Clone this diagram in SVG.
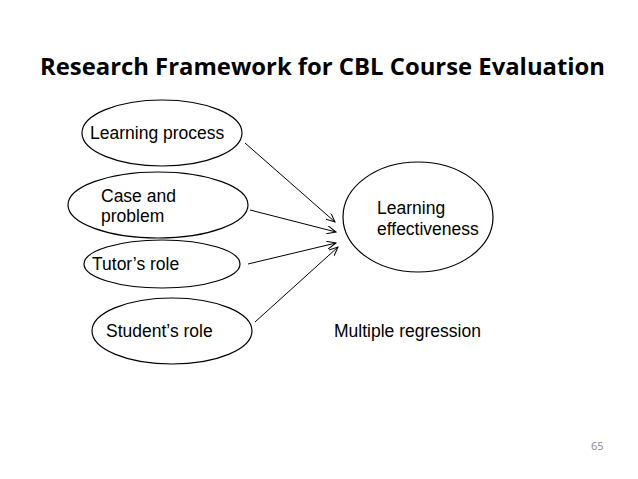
<svg xmlns="http://www.w3.org/2000/svg" width="638" height="479" viewBox="0 0 638 479">
<style>
.n{fill:#fff;stroke:#000;stroke-width:1.2}
.t{font-family:"Liberation Sans",Arial,sans-serif;font-size:17.5px;fill:#000}
.c{stroke:#000;stroke-width:1;fill:none;marker-end:url(#a)}
</style>
<defs><marker id="a" markerWidth="10" markerHeight="8" refX="9" refY="4" orient="auto" markerUnits="userSpaceOnUse"><path d="M0,0L9,4L0,8" fill="none" stroke="#000"/></marker></defs>
<rect width="638" height="479" fill="#fff"/>
<text x="40" y="75" font-family="'Open Sans','DejaVu Sans',sans-serif" font-weight="bold" font-size="24" textLength="565" lengthAdjust="spacingAndGlyphs" fill="#000">Research Framework for CBL Course Evaluation</text>
<g id="lp"><ellipse class="n" cx="162" cy="133" rx="80" ry="33"/><text class="t" x="90" y="139">Learning process</text></g>
<g id="cp"><ellipse class="n" cx="158" cy="205" rx="90" ry="33"/><text class="t" x="101" y="202">Case and</text><text class="t" x="101" y="222">problem</text></g>
<g id="tr"><ellipse class="n" cx="162" cy="264" rx="78" ry="24"/><text class="t" x="92" y="270">Tutor’s role</text></g>
<g id="sr"><ellipse class="n" cx="172" cy="331" rx="80" ry="33"/><text class="t" x="106" y="337">Student’s role</text></g>
<g id="le"><ellipse class="n" cx="418" cy="217" rx="75" ry="55"/><text class="t" x="377" y="214">Learning</text><text class="t" x="377" y="235">effectiveness</text></g>
<g id="edges">
<line class="c" x1="245" y1="143" x2="335" y2="222"/>
<line class="c" x1="250" y1="210" x2="336" y2="232"/>
<line class="c" x1="248" y1="264" x2="336" y2="243"/>
<line class="c" x1="255" y1="322" x2="338" y2="247"/>
</g>
<text class="t" x="334" y="337">Multiple regression</text>
<text x="591" y="450" font-family="'Open Sans',sans-serif" font-size="11" fill="#888">65</text>
</svg>
